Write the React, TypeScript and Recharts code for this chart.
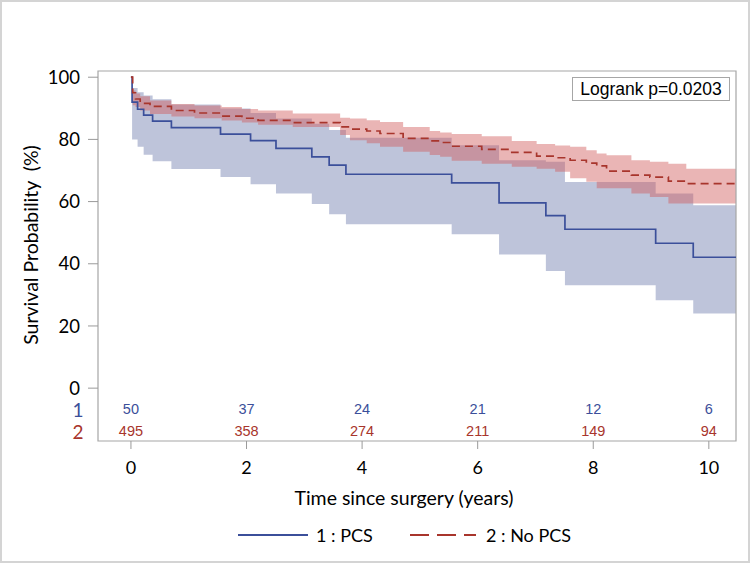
import { ComposedChart, Line, Area, Scatter, XAxis, YAxis, ReferenceArea } from 'recharts';

// Group 1: PCS (Kaplan-Meier estimate and 95% band, %)
const pcsTime = [0, 0.02, 0.115, 0.22, 0.375, 0.7, 1.55, 2.07, 2.51, 3.13, 3.43, 3.72, 5.55, 6.37, 7.18, 7.51, 9.08, 9.73, 10.47];
const pcsSurv = [100, 92, 89.7, 87.8, 85.9, 83.8, 81.7, 79.6, 77.1, 74.4, 71.7, 68.8, 66.0, 59.6, 55.5, 51.1, 46.6, 42.1, 42.1];
const pcsLow = [100, 80, 77.6, 75.1, 73.0, 70.5, 67.9, 65.6, 62.6, 59.2, 55.9, 52.7, 49.5, 43.0, 37.7, 33.1, 28.3, 24.0, 24.0];
const pcsHigh = [100, 96.5, 95.2, 94.1, 92.9, 91.2, 89.9, 88.5, 86.7, 85.0, 83.0, 80.5, 78.1, 73.3, 72.8, 66.3, 62.6, 58.8, 58.8];

// Group 2: No PCS
const noTime = [0, 0.03, 0.08, 0.16, 0.33, 0.7, 1.1, 1.57, 1.92, 2.2, 2.8, 3.62, 3.79, 4.08, 4.31, 4.71, 5.17, 5.35, 5.55, 6.07, 6.59, 7.02, 7.34, 7.6, 7.88, 8.06, 8.23, 8.66, 8.98, 9.3, 9.61, 10.47];
const noSurv = [100, 95, 93, 91.6, 90.6, 89.3, 88.5, 87.5, 86.8, 86.1, 85.4, 84.0, 83.3, 82.7, 81.9, 80.3, 79.5, 79.0, 77.8, 76.8, 75.8, 74.6, 74.1, 73.3, 72.4, 71.5, 69.8, 68.5, 67.9, 66.6, 65.8, 65.8];
const noLow = [100, 91.0, 90.4, 89.3, 88.2, 87.4, 86.8, 86.1, 85.4, 84.7, 84.0, 81.4, 79.7, 78.8, 77.6, 76.0, 75.0, 74.4, 73.1, 72.2, 71.2, 70.6, 69.6, 67.5, 66.4, 64.3, 64.3, 62.6, 61.5, 59.4, 59.4, 59.4];
const noHigh = [100, 95.7, 94.8, 93.9, 92.5, 91.4, 90.9, 90.4, 89.8, 89.3, 88.3, 87.0, 86.7, 86.2, 85.6, 84.0, 82.7, 82.2, 81.7, 81.0, 79.5, 78.5, 78.0, 77.6, 76.5, 75.5, 74.9, 73.3, 72.8, 72.2, 70.6, 70.6];

// Number at risk
const riskTimes = [0, 2, 4, 6, 8, 10];
const riskPCS = [50, 37, 24, 21, 12, 6];
const riskNoPCS = [495, 358, 274, 211, 149, 94];

const xTicks = [0, 2, 4, 6, 8, 10];
const yTicks = [0, 20, 40, 60, 80, 100];

const BLUE = '#3b4f9a';
const RED = '#a8352c';
const ROW1_Y = -6.75;
const ROW2_Y = -13.8;

const pcsLine = pcsTime.map((t, i) => ({ t, s: pcsSurv[i] }));
const pcsBand = pcsTime.map((t, i) => ({ t, band: [pcsLow[i], pcsHigh[i]] }));
const noLine = noTime.map((t, i) => ({ t, s: noSurv[i] }));
const noBand = noTime.map((t, i) => ({ t, band: [noLow[i], noHigh[i]] }));
const risk1 = riskTimes.map((t, i) => ({ t, y: ROW1_Y, n: riskPCS[i] }));
const risk2 = riskTimes.map((t, i) => ({ t, y: ROW2_Y, n: riskNoPCS[i] }));

const riskText = (color: string) => (props: any) => (
  <text x={props.cx} y={props.cy} textAnchor="middle" dominantBaseline="central"
    fontFamily="Liberation Sans, Arial, sans-serif" fontSize={14.5} fill={color}>
    {props.payload.n}
  </text>
);

const font = "Lato, 'Open Sans', sans-serif";

export default function App() {
  return (
    <div style={{ position: 'absolute', left: 0, top: 0, width: 750, height: 563, background: '#fff' }}>
      <ComposedChart width={750} height={563} margin={{ top: 71, right: 14, left: 38, bottom: 92 }}>
        <XAxis dataKey="t" type="number" domain={[-0.57, 10.47]} ticks={xTicks} allowDataOverflow
          height={30} axisLine={false} tickSize={8} tickMargin={12} tickLine={{ stroke: '#9a9a9a' }}
          tick={{ fontSize: 18, fontFamily: font, fill: '#000' }} />
        <YAxis type="number" domain={[-17, 102]} ticks={yTicks} allowDataOverflow width={60}
          axisLine={false} tickSize={10} tickMargin={8} tickLine={{ stroke: '#9a9a9a' }}
          tick={{ fontSize: 18.5, fontFamily: font, fill: '#000' }} />
        <Area data={pcsBand} dataKey="band" type="stepAfter" stroke="none" fill="#445694" fillOpacity={0.35} isAnimationActive={false} />
        <Area data={noBand} dataKey="band" type="stepAfter" stroke="none" fill="#d05b5b" fillOpacity={0.45} isAnimationActive={false} />
        <Line data={pcsLine} dataKey="s" type="stepAfter" stroke={BLUE} strokeWidth={1.7} dot={false} isAnimationActive={false} />
        <Line data={noLine} dataKey="s" type="stepAfter" stroke={RED} strokeWidth={1.7} strokeDasharray="8 5" dot={false} isAnimationActive={false} />
        <Scatter data={risk1} dataKey="y" shape={riskText(BLUE)} isAnimationActive={false} />
        <Scatter data={risk2} dataKey="y" shape={riskText(RED)} isAnimationActive={false} />
        <ReferenceArea x1={-0.57} x2={10.47} y1={-17} y2={102} fill="none" stroke="#a6a6a6" strokeWidth={1.2} ifOverflow="visible" />
      </ComposedChart>

      {/* at-risk row labels */}
      <div style={{ position: 'absolute', left: 78, top: 409, transform: 'translate(-50%,-50%)', fontFamily: font, fontSize: 19, color: BLUE }}>1</div>
      <div style={{ position: 'absolute', left: 78, top: 431, transform: 'translate(-50%,-50%)', fontFamily: font, fontSize: 19, color: RED }}>2</div>

      {/* axis titles */}
      <div style={{ position: 'absolute', left: 30, top: 245, transform: 'translate(-50%,-50%) rotate(-90deg)', whiteSpace: 'pre', fontFamily: font, fontSize: 19.5, color: '#000' }}>
        {'Survival Probability  (%)'}
      </div>
      <div style={{ position: 'absolute', left: 404, top: 497, transform: 'translate(-50%,-50%)', whiteSpace: 'nowrap', fontFamily: font, fontSize: 19.5, color: '#000' }}>
        Time since surgery (years)
      </div>

      {/* logrank box */}
      <div style={{ position: 'absolute', left: 572, top: 77, width: 158, height: 24, boxSizing: 'border-box', border: '1px solid #a6a6a6', background: '#fff',
        display: 'flex', alignItems: 'center', justifyContent: 'center', fontFamily: 'Liberation Sans, Arial, sans-serif', fontSize: 17.5, color: '#000', whiteSpace: 'nowrap' }}>
        Logrank p=0.0203
      </div>

      {/* legend */}
      <svg style={{ position: 'absolute', left: 0, top: 0 }} width={750} height={563} pointerEvents="none">
        <line x1={238} x2={308} y1={535} y2={535} stroke={BLUE} strokeWidth={1.8} />
        <text x={316} y={535} dominantBaseline="central" fontFamily={font} fontSize={18} fill="#000">1 : PCS</text>
        <line x1={410} x2={476} y1={535} y2={535} stroke={RED} strokeWidth={1.8} strokeDasharray="19 8" />
        <text x={486} y={535} dominantBaseline="central" fontFamily={font} fontSize={18} fill="#000">2 : No PCS</text>
      </svg>

      {/* outer frame */}
      <div style={{ position: 'absolute', left: 0, top: 0, width: 750, height: 563, boxSizing: 'border-box', border: '2px solid #d4d4d4', pointerEvents: 'none' }} />
    </div>
  );
}
